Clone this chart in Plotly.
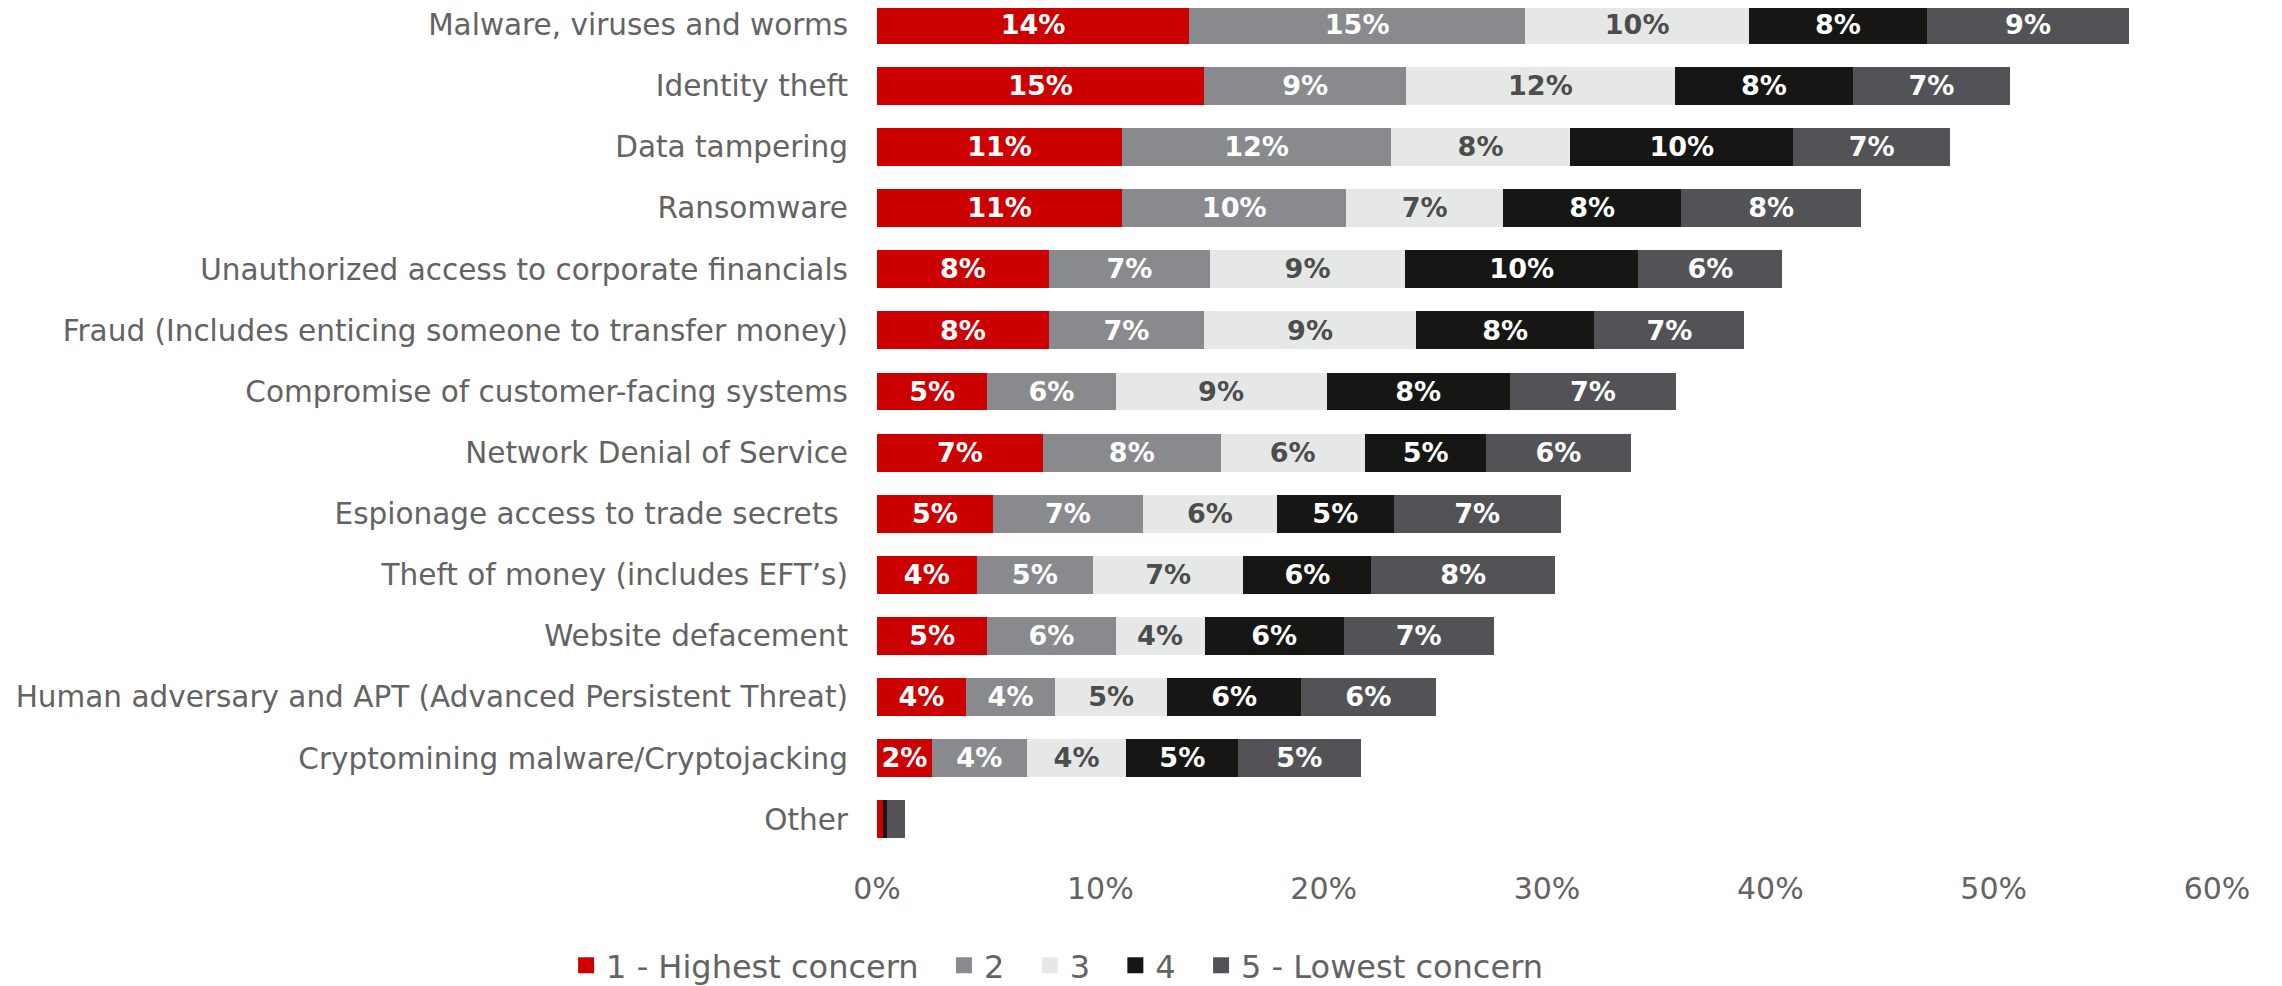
import plotly.graph_objects as go

categories = [
    "Malware, viruses and worms",
    "Identity theft",
    "Data tampering",
    "Ransomware",
    "Unauthorized access to corporate financials",
    "Fraud (Includes enticing someone to transfer money)",
    "Compromise of customer-facing systems",
    "Network Denial of Service",
    "Espionage access to trade secrets ",
    "Theft of money (includes EFT\u2019s)",
    "Website defacement",
    "Human adversary and APT (Advanced Persistent Threat)",
    "Cryptomining malware/Cryptojacking",
    "Other",
]

concern_1 = [13.97, 14.65, 10.98, 10.98, 7.69, 7.69, 4.94, 7.43, 5.19, 4.46, 4.94, 3.98, 2.46, 0.25]
concern_2 = [15.06, 9.04, 12.03, 10.03, 7.22, 6.96, 5.74, 7.96, 6.72, 5.21, 5.74, 4.00, 4.24, 0.0]
concern_3 = [10.01, 12.03, 8.03, 7.02, 8.74, 9.48, 9.45, 6.45, 6.00, 6.74, 3.99, 5.01, 4.47, 0.0]
concern_4 = [7.98, 7.99, 9.99, 7.99, 10.44, 7.99, 8.20, 5.45, 5.22, 5.72, 6.22, 6.00, 5.00, 0.20]
concern_5 = [9.04, 7.00, 7.02, 8.03, 6.45, 6.72, 7.45, 6.45, 7.49, 8.23, 6.72, 6.02, 5.48, 0.80]

series_names = ["1 - Highest concern", "2", "3", "4", "5 - Lowest concern"]
series_values = [concern_1, concern_2, concern_3, concern_4, concern_5]
series_colors = ["#CC0000", "#898A8D", "#E6E8E8", "#161614", "#535357"]
label_colors = ["#FFFFFF", "#FFFFFF", "#4D4D4D", "#FFFFFF", "#FFFFFF"]

x_ticks = [0, 10, 20, 30, 40, 50, 60]
x_tick_labels = ["0%", "10%", "20%", "30%", "40%", "50%", "60%"]

TEXT_GREY = "#636363"
NBSP = "\u00a0"

fig = go.Figure()
for name, vals, col, lcol in zip(series_names, series_values, series_colors, label_colors):
    texts = [f"{v:.0f}%" if v >= 1 else "" for v in vals]
    fig.add_trace(go.Bar(
        y=categories, x=vals, name=name, orientation="h",
        marker=dict(color=col, line=dict(width=0)),
        text=texts, textposition="inside", insidetextanchor="middle",
        textangle=0,
        textfont=dict(family="DejaVu Sans", size=28, color=lcol, weight="bold"),
        hoverinfo="skip", showlegend=False, legendgroup=name,
    ))

# legend-only entries with larger square swatches
for i, (name, col) in enumerate(zip(series_names, series_colors)):
    pad = NBSP * 2 if i < len(series_names) - 1 else ""
    fig.add_trace(go.Scatter(
        x=[None], y=[None], mode="markers", name=name + pad, legendgroup=name,
        marker=dict(symbol="square", size=18, color=col),
        hoverinfo="skip",
    ))

fig.update_layout(
    barmode="stack",
    bargap=0.38,
    width=2274, height=978,
    margin=dict(l=869, r=65, t=0, b=136, autoexpand=False),
    paper_bgcolor="white", plot_bgcolor="white",
    font=dict(family="DejaVu Sans", color=TEXT_GREY),
    showlegend=True,
    legend=dict(
        orientation="h", x=-0.232, xanchor="left", y=-0.1698, yanchor="bottom",
        font=dict(size=32, color=TEXT_GREY), borderwidth=0,
        traceorder="normal", itemwidth=30,
    ),
    xaxis=dict(
        range=[0, 60], tickvals=x_ticks, ticktext=x_tick_labels,
        showgrid=False, zeroline=False, showline=False,
        tickfont=dict(size=30, color=TEXT_GREY), ticklabelstandoff=18,
    ),
    yaxis=dict(
        categoryorder="array", categoryarray=categories,
        range=[13.5, -0.273],
        showgrid=False, zeroline=False, showline=False,
        tickfont=dict(size=29.5, color=TEXT_GREY), ticklabelstandoff=28,
    ),
)

fig.write_html("out.html")
